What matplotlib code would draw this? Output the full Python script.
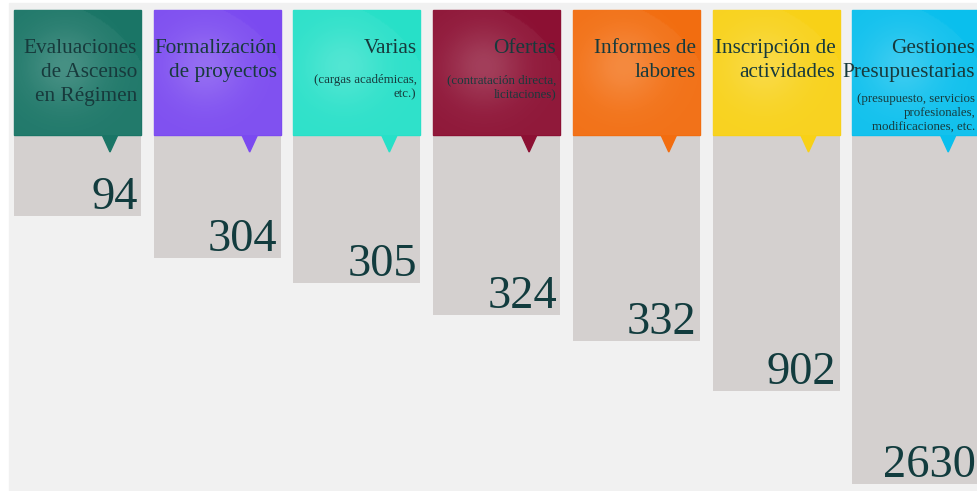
import numpy as np
import matplotlib.pyplot as plt
from matplotlib.patches import Rectangle, Polygon

# data
titles = [["Evaluaciones", "de Ascenso", "en Régimen"],
          ["Formalización", "de proyectos"],
          ["Varias"],
          ["Ofertas"],
          ["Informes de", "labores"],
          ["Inscripción de", "actividades"],
          ["Gestiones", "Presupuestarias"]]
subtitles = [[], [], ["(cargas académicas,", "etc.)"],
             ["(contratación directa,", "licitaciones)"], [], [],
             ["(presupuesto, servicios", "profesionales,", "modificaciones, etc."]]
values = [94, 304, 305, 324, 332, 902, 2630]
# bar lengths as drawn in the picture (not proportional to values)
bar_lengths = [81, 123, 148, 180, 206, 256, 349]
colors = ["#1a7566", "#7b4af0", "#27e0c8", "#8c1033", "#f26d10", "#f8d117", "#0abfed"]

W, H = 978, 491
fig = plt.figure(figsize=(W / 100, H / 100), dpi=100)
ax = fig.add_axes([0, 0, 1, 1])
ax.set_xlim(0, W)
ax.set_ylim(H, 0)
ax.axis('off')

ax.add_patch(Rectangle((9, 3), W - 9, H - 3, color="#f1f1f1", zorder=0))

serif = "Liberation Serif"
txt_col = "#173a3c"
col_w = 127
top, head_h = 10, 125
lefts = [14 + i * 139.7 for i in range(len(values))]

# glossy highlight overlay
gy, gx = np.mgrid[0:1:120j, 0:1:120j]
d = np.sqrt((gx - 0.4) ** 2 + (gy - 0.45) ** 2)
glow = np.zeros((120, 120, 4))
glow[..., :3] = 1.0
glow[..., 3] = 0.16 * np.exp(-(d / 0.3) ** 2)
arc = np.sqrt((gx - 0.1) ** 2 + (gy - 0.95) ** 2) < 1.05
glow[..., 3] += np.where(arc, 0.04, 0.0)

ax.bar(lefts, bar_lengths, width=col_w, bottom=top + head_h, align='edge',
       color="#d4d0cf", zorder=1)

for i, x0 in enumerate(lefts):
    x1 = x0 + col_w
    ax.add_patch(Rectangle((x0, top), col_w, head_h, color=colors[i], zorder=2))
    ax.imshow(glow, extent=(x0, x1, top + head_h, top), zorder=3,
              interpolation='bilinear', aspect='auto')
    cx = x0 + 96
    ax.add_patch(Polygon([(cx - 8, top + head_h - 0.5), (cx + 8, top + head_h - 0.5),
                          (cx, top + head_h + 17)], closed=True, color=colors[i], zorder=2))
    for j, line in enumerate(titles[i]):
        ax.text(x1 - 4, 53 + 24 * j, line, ha='right', va='baseline', family=serif,
                fontsize=15.3, color=txt_col, zorder=4)
    if i == 6:
        sub_y, sub_step = 102, 14
    else:
        sub_y, sub_step = 83, 14
    for j, line in enumerate(subtitles[i]):
        ax.text(x1 - 4, sub_y + sub_step * j, line, ha='right', va='baseline',
                family=serif, fontsize=9.3, color=txt_col, zorder=4)
    ax.text(x1 - 3, top + head_h + bar_lengths[i] - 7, str(values[i]), ha='right',
            va='baseline', family=serif, fontsize=33.5, color="#123c3e", zorder=4)

fig.savefig("out.png", dpi=100, facecolor="white")
